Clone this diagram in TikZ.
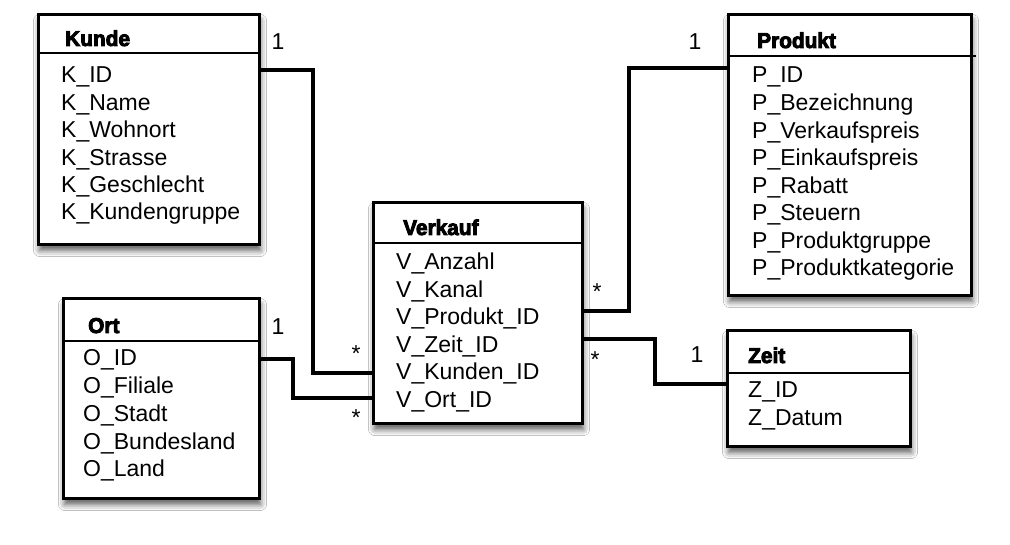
\documentclass[tikz,border=0pt]{standalone}
\usepackage{fontspec}
\setmainfont{Liberation Sans}
\newfontfamily\ttlfont{Liberation Sans Bold}[FakeBold=4, FakeStretch=0.97]
\usetikzlibrary{shadows.blur}
\begin{document}
\begin{tikzpicture}[x=1pt,y=-1pt,
  tbl/.style={draw=black, line width=3pt, fill=white, anchor=north west, inner sep=0pt,
    blur shadow={shadow xshift=1pt, shadow yshift=-6pt, shadow blur radius=6pt, shadow opacity=65}},
  sepline/.style={line width=2.6pt},
  ttl/.style={anchor=base west, inner sep=0pt, font=\fontsize{21.5}{24}\ttlfont},
  attr/.style={anchor=base west, inner sep=0pt, font=\fontsize{23}{27}\selectfont},
  conn/.style={line width=3.2pt, line join=miter},
  mult/.style={inner sep=0pt, font=\fontsize{23}{26}\selectfont}]
\useasboundingbox[fill=white] (0,0) rectangle (1010,545);

% Kunde
\node[tbl, minimum width=221pt, minimum height=230pt] (kunde) at (37,13) {};
\draw[sepline] ([yshift=-40pt]kunde.north west) -- ([yshift=-40pt]kunde.north east);
\node[ttl] (kundeT) at (65,46) {Kunde};
\foreach \t [count=\i from 0] in {K\_ID,K\_Name,K\_Wohnort,K\_Strasse,K\_Geschlecht,K\_Kundengruppe}
  \node[attr] (kunde\i) at (61,83+27.4*\i) {\t};

% Verkauf
\node[tbl, minimum width=209pt, minimum height=221pt] (verkauf) at (372,201) {};
\draw[sepline] ([yshift=-42pt]verkauf.north west) -- ([yshift=-42pt]verkauf.north east);
\node[ttl] (verkaufT) at (403,235) {Verkauf};
\foreach \t [count=\i from 0] in {V\_Anzahl,V\_Kanal,V\_Produkt\_ID,V\_Zeit\_ID,V\_Kunden\_ID,V\_Ort\_ID}
  \node[attr] (verkauf\i) at (396,270+27.4*\i) {\t};

% Produkt
\node[tbl, minimum width=243pt, minimum height=281pt] (produkt) at (727,13) {};
\draw[sepline] ([yshift=-43pt]produkt.north west) -- ([yshift=-43pt,xshift=3pt]produkt.north east);
\node[ttl] (produktT) at (757,48) {Produkt};
\foreach \t [count=\i from 0] in {P\_ID,P\_Bezeichnung,P\_Verkaufspreis,P\_Einkaufspreis,P\_Rabatt,P\_Steuern,P\_Produktgruppe,P\_Produktkategorie}
  \node[attr] (produkt\i) at (752,83+27.55*\i) {\t};

% Ort
\node[tbl, minimum width=196pt, minimum height=200pt] (ort) at (62,297) {};
\draw[sepline] ([yshift=-44pt]ort.north west) -- ([yshift=-44pt]ort.north east);
\node[ttl] (ortT) at (88,333) {Ort};
\foreach \t [count=\i from 0] in {O\_ID,O\_Filiale,O\_Stadt,O\_Bundesland,O\_Land}
  \node[attr] (ort\i) at (83,366+27.7*\i) {\t};

% Zeit
\node[tbl, minimum width=183pt, minimum height=116pt] (zeit) at (726,329) {};
\draw[sepline] ([yshift=-44pt]zeit.north west) -- ([yshift=-44pt]zeit.north east);
\node[ttl] (zeitT) at (748,363) {Zeit};
\foreach \t [count=\i from 0] in {Z\_ID,Z\_Datum}
  \node[attr] (zeit\i) at (748,398+27.4*\i) {\t};

% connectors
\draw[conn] (kunde.north east |- 0,70) -| (313,373) -- (verkauf.west |- 0,373);
\draw[conn] (ort.east |- 0,359) -| (293,398) -- (verkauf.west |- 0,398);
\draw[conn] (verkauf.east |- 0,311) -| (629,68) -- (produkt.west |- 0,68);
\draw[conn] (verkauf.east |- 0,339) -| (655,384) -- (zeit.west |- 0,384);

% multiplicities
\node[mult] (m1) at (278,42) {1};
\node[mult] (m2) at (695,42) {1};
\node[mult] (m3) at (278,327) {1};
\node[mult] (m4) at (697,355) {1};
\node[mult] (s1) at (356,354) {*};
\node[mult] (s2) at (356,418) {*};
\node[mult] (s3) at (597,292) {*};
\node[mult] (s4) at (595,360) {*};
\end{tikzpicture}
\end{document}
